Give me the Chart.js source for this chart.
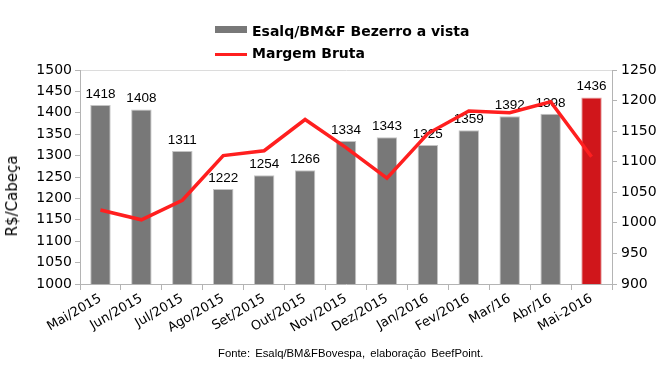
<!DOCTYPE html>
<html>
<head>
<meta charset="utf-8">
<script src="https://cdn.jsdelivr.net/npm/chart.js@4/dist/chart.umd.min.js"></script>
<style>
    body { margin: 0; background: #fff; }
    #wrap { position: relative; width: 661px; height: 367px; }
    .legend { position: absolute; left: 215px; font: bold 14px/14px "DejaVu Sans", sans-serif; color: #000; }
    .legend .sw { position: absolute; left: 0; width: 32px; }
    .legend span { position: absolute; left: 37px; white-space: nowrap; }
    #yTitle { position: absolute; left: 12px; top: 196px; transform: translate(-50%, -50%) rotate(-90deg);
              font: 15px "DejaVu Sans", sans-serif; white-space: nowrap; }
    #fonte { position: absolute; left: 218px; top: 347px; font: 11.3px/12px "Liberation Sans", Arial, sans-serif;
             word-spacing: 2px; white-space: nowrap; }
</style>
</head>
<body>
<div id="wrap">
    <canvas id="chart"></canvas>
    <div class="legend" style="top:24px;"><div class="sw" style="top:2px;height:7px;background:#787878;"></div><span style="top:0;">Esalq/BM&amp;F Bezerro a vista</span></div>
    <div class="legend" style="top:45.5px;"><div class="sw" style="top:7.5px;height:2.5px;background:#ff1f1f;"></div><span style="top:0;">Margem Bruta</span></div>
    <div id="yTitle">R$/Cabeça</div>
    <div id="fonte">Fonte: Esalq/BM&amp;FBovespa, elaboração BeefPoint.</div>
</div>
<script>
// chart data
const months = ['Mai/2015', 'Jun/2015', 'Jul/2015', 'Ago/2015', 'Set/2015', 'Out/2015', 'Nov/2015',
                'Dez/2015', 'Jan/2016', 'Fev/2016', 'Mar/16', 'Abr/16', 'Mai-2016'];
const bezerro = [1418, 1408, 1311, 1222, 1254, 1266, 1334, 1343, 1325, 1359, 1392, 1398, 1436];
const margem = [1021, 1005, 1037, 1110, 1118, 1169, 1123, 1073, 1146, 1183, 1180, 1198, 1108];

// axis ranges: min, max, step
const leftTicks = [1000, 1500, 50];
const rightTicks = [900, 1250, 50];

const barColors = bezerro.map((v, i) => i === bezerro.length - 1 ? '#d0161b' : '#787878');
const barBorders = bezerro.map((v, i) => i === bezerro.length - 1 ? '#e3a0a0' : '#c4c4c4');

// value labels above the bars, drawn before the line so it passes over them
const barLabels = {
    id: 'barLabels',
    afterDatasetDraw(chart, args) {
        if (args.index !== 0) return;
        const ctx = chart.ctx;
        ctx.save();
        ctx.font = '13.5px "Liberation Sans", Arial, sans-serif';
        ctx.fillStyle = '#000';
        ctx.textAlign = 'center';
        ctx.textBaseline = 'bottom';
        args.meta.data.forEach((bar, i) => {
            ctx.fillText(bezerro[i], bar.x, bar.y - 4);
        });
        ctx.restore();
    }
};

const axisGrey = '#b4b4b4';
const tickFont = { family: '"DejaVu Sans", sans-serif', size: 14 };
const plain = v => String(v);

new Chart(document.getElementById('chart'), {
    type: 'bar',
    data: {
        labels: months,
        datasets: [{
            type: 'bar',
            label: 'Esalq/BM&F Bezerro a vista',
            data: bezerro,
            backgroundColor: barColors,
            borderColor: barBorders,
            borderWidth: 1,
            barPercentage: 0.5,
            categoryPercentage: 1,
            yAxisID: 'y',
            order: 2
        }, {
            type: 'line',
            label: 'Margem Bruta',
            data: margem,
            borderColor: '#ff1f1f',
            borderWidth: 3.5,
            pointRadius: 0,
            tension: 0,
            yAxisID: 'y1',
            order: 1
        }]
    },
    options: {
        responsive: true,
        maintainAspectRatio: false,
        animation: false,
        layout: { padding: { top: 70, left: 0, right: 0, bottom: 0 } },
        plugins: {
            legend: { display: false },
            tooltip: { enabled: false }
        },
        scales: {
            x: {
                grid: { drawOnChartArea: false, tickLength: 6, tickColor: axisGrey },
                border: { color: axisGrey },
                ticks: {
                    color: '#000',
                    font: { family: '"DejaVu Sans", sans-serif', size: 13 },
                    minRotation: 30, maxRotation: 30, autoSkip: false, padding: 1
                },
                afterFit(scale) { scale.height = 83; }
            },
            y: {
                position: 'left',
                min: leftTicks[0], max: leftTicks[1],
                grid: {
                    color: c => c.tick && c.tick.value === leftTicks[1] ? '#dcdcdc' : 'transparent',
                    tickColor: axisGrey, tickLength: 5
                },
                border: { color: axisGrey },
                ticks: { stepSize: leftTicks[2], color: '#000', font: tickFont, padding: 3, callback: plain },
                afterFit(scale) { scale.width = 80; }
            },
            y1: {
                position: 'right',
                min: rightTicks[0], max: rightTicks[1],
                grid: { drawOnChartArea: false, tickColor: axisGrey, tickLength: 5 },
                border: { color: axisGrey },
                ticks: { stepSize: rightTicks[2], color: '#000', font: tickFont, padding: 4, callback: plain },
                afterFit(scale) { scale.width = 49; }
            }
        }
    },
    plugins: [barLabels]
});
</script>
</body>
</html>
